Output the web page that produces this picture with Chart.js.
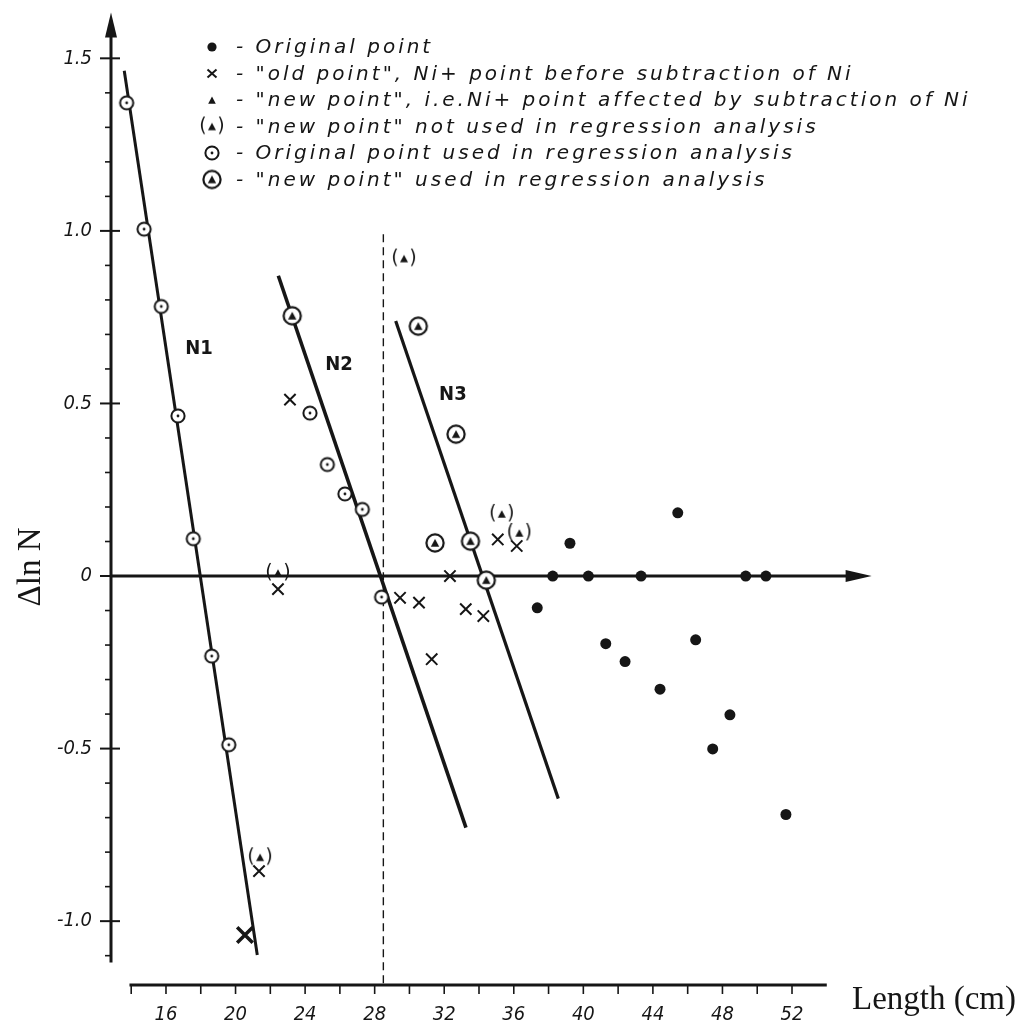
<!DOCTYPE html>
<html>
<head>
<meta charset="utf-8">
<title>Δln N against length</title>
<script src="https://cdn.jsdelivr.net/npm/chart.js@4/dist/chart.umd.min.js"></script>
<style>
  html, body { margin: 0; padding: 0; background: #ffffff; }
  #wrap { position: relative; width: 1024px; height: 1027px; }
</style>
</head>
<body>
<div id="wrap"><canvas id="chart"></canvas></div>
<script>
// ---- axis ticks -------------------------------------------------------
const X_TICKS = [16, 20, 24, 28, 32, 36, 40, 44, 48, 52];
const Y_TICKS = [1.5, 1.0, 0.5, 0, -0.5, -1.0];
const Y_TICK_LABELS = ['1.5', '1.0', '0.5', '0', '-0.5', '-1.0'];

// ---- measured points ---------------------------------------------------
// filled dots: original points
const originalX = [37.35, 38.24, 39.23, 40.29, 41.29, 42.40, 43.32, 44.41, 45.43, 46.46, 47.44, 48.43, 49.34, 50.50, 51.65];
const originalY = [-0.092, 0, 0.095, 0, -0.196, -0.248, 0, -0.328, 0.183, -0.185, -0.501, -0.402, 0, 0, -0.691];

// crosses: "old points" before the Ni subtraction
const oldX = [21.35, 22.44, 23.13, 29.46, 30.55, 31.28, 32.33, 33.24, 34.25, 35.08, 36.17];
const oldY = [-0.855, -0.038, 0.511, -0.063, -0.077, -0.241, 0, -0.096, -0.116, 0.106, 0.087];
const oldBigX = [20.54];
const oldBigY = [-1.04];

// bracketed triangles: new points left out of the regression
const newUnusedX = [21.41, 22.44, 29.69, 35.31, 36.32];
const newUnusedY = [-0.815, 0.009, 0.920, 0.180, 0.125];

// dotted rings: original points used in the regression
const origUsedX = [13.74, 14.74, 15.73, 16.69, 17.57, 18.63, 19.61, 24.28, 25.28, 26.29, 27.29, 28.40];
const origUsedY = [1.371, 1.005, 0.781, 0.464, 0.108, -0.232, -0.489, 0.472, 0.323, 0.238, 0.193, -0.061];

// ringed triangles: new points used in the regression
const newUsedX = [23.26, 30.51, 32.68, 31.47, 33.51, 34.42];
const newUsedY = [0.754, 0.724, 0.411, 0.096, 0.101, -0.012];

// regression lines (end points)
const n1X = [13.60, 21.25], n1Y = [1.464, -1.098];
const n2X = [22.46, 33.25], n2Y = [0.870, -0.729];
const n3X = [29.21, 38.56], n3Y = [0.739, -0.645];

// vertical dashed marker
const dashX = [28.5, 28.5], dashY = [0.99, -1.185];

// line names and where they are written
const lineNames = ['N1', 'N2', 'N3'];
const lineNameX = [17.90, 25.95, 32.50];
const lineNameY = [0.659, 0.613, 0.526];

// ---- scale frame -------------------------------------------------------
const X_MIN = 12.838, X_MAX = 56.60;
const Y_MIN = -1.185, Y_MAX = 1.627;
const Y_AXIS_TOP = 1.633, Y_AXIS_BOTTOM = -1.12;
const ZERO_LINE_END = 56.58;
const BASE_FROM = 13.9, BASE_TO = 54.0;

const INK = '#161616';
const STENCIL = '"DejaVu Sans Condensed", "DejaVu Sans", sans-serif';
const SERIF = '"Liberation Serif", "DejaVu Serif", serif';

// ---- marker glyphs -------------------------------------------------------
function glyph(w, h, paint) {
  const c = document.createElement('canvas');
  c.width = w; c.height = h;
  const g = c.getContext('2d');
  g.fillStyle = INK; g.strokeStyle = INK;
  paint(g, w / 2, h / 2);
  return c;
}
function triangle(g, cx, cy, s) {
  g.beginPath();
  g.moveTo(cx, cy - s);
  g.lineTo(cx - s * 0.95, cy + s * 0.8);
  g.lineTo(cx + s * 0.95, cy + s * 0.8);
  g.closePath();
  g.fillStyle = INK;
  g.fill();
}
function ring(g, cx, cy, r, lw) {
  g.beginPath();
  g.arc(cx, cy, r, 0, Math.PI * 2);
  g.fillStyle = '#ffffff';
  g.fill();
  g.lineWidth = lw;
  g.strokeStyle = INK;
  g.stroke();
}
const ringDot = glyph(18, 18, (g, cx, cy) => {
  ring(g, cx, cy, 6.6, 2);
  g.beginPath(); g.arc(cx, cy, 1.4, 0, Math.PI * 2); g.fillStyle = INK; g.fill();
});
const ringTri = glyph(22, 22, (g, cx, cy) => {
  ring(g, cx, cy, 8.6, 2.2);
  triangle(g, cx, cy + 0.3, 4.4);
});
const plainTri = glyph(12, 12, (g, cx, cy) => triangle(g, cx, cy + 0.5, 4));
const parenTri = glyph(30, 24, (g, cx, cy) => {
  g.font = '19px "DejaVu Sans", sans-serif';
  g.textAlign = 'center';
  g.textBaseline = 'middle';
  g.fillStyle = INK;
  g.fillText('(', cx - 9, cy);
  g.fillText(')', cx + 9, cy);
  triangle(g, cx, cy + 0.5, 4.2);
});

const pts = (xs, ys) => xs.map((x, i) => ({ x, y: ys[i] }));

const datasets = [
  { label: 'Original point', data: pts(originalX, originalY),
    pointStyle: 'circle', pointRadius: 5.5, backgroundColor: INK, borderColor: INK, borderWidth: 0 },
  { label: '"old point", Ni+ point before subtraction of Ni', data: pts(oldX, oldY),
    pointStyle: 'crossRot', pointRadius: 8, borderColor: INK, borderWidth: 2 },
  { label: '"old point", Ni+ point before subtraction of Ni', data: pts(oldBigX, oldBigY),
    pointStyle: 'crossRot', pointRadius: 11, borderColor: INK, borderWidth: 3.5 },
  { label: '"new point", i.e.Ni+ point affected by subtraction of Ni', data: [],
    pointStyle: plainTri, pointRadius: 6 },
  { label: '"new point" not used in regression analysis', data: pts(newUnusedX, newUnusedY),
    pointStyle: parenTri, pointRadius: 6 },
  { label: 'Original point used in regression analysis', data: pts(origUsedX, origUsedY),
    pointStyle: ringDot, pointRadius: 6 },
  { label: '"new point" used in regression analysis', data: pts(newUsedX, newUsedY),
    pointStyle: ringTri, pointRadius: 6 },
  { label: 'N1', data: pts(n1X, n1Y), showLine: true, pointRadius: 0, borderColor: INK, borderWidth: 3, order: 5 },
  { label: 'N2', data: pts(n2X, n2Y), showLine: true, pointRadius: 0, borderColor: INK, borderWidth: 3.6, order: 5 },
  { label: 'N3', data: pts(n3X, n3Y), showLine: true, pointRadius: 0, borderColor: INK, borderWidth: 3.2, order: 5 },
  { label: 'marker', data: pts(dashX, dashY), showLine: true, pointRadius: 0, borderColor: INK,
    borderWidth: 1.4, borderDash: [8, 5], order: 6 }
];

// legend rows: dataset index for each row
const LEGEND_ROWS = [0, 1, 3, 4, 5, 6];

// ---- hand-drawn axes, legend and annotations -------------------------
function seg(ctx, x1, y1, x2, y2) { ctx.beginPath(); ctx.moveTo(x1, y1); ctx.lineTo(x2, y2); ctx.stroke(); }

const figurePlugin = {
  id: 'figure',
  beforeDatasetsDraw(chart) {
    const { ctx, chartArea: a, scales: { x, y } } = chart;
    const ax = a.left;
    const y0 = y.getPixelForValue(0);
    const yTop = y.getPixelForValue(Y_AXIS_TOP);
    const yBot = y.getPixelForValue(Y_AXIS_BOTTOM);
    ctx.save();
    ctx.strokeStyle = INK; ctx.fillStyle = INK; ctx.lineCap = 'butt';

    // vertical axis with arrow
    ctx.lineWidth = 3;
    seg(ctx, ax, yTop + 18, ax, yBot);
    ctx.beginPath();
    ctx.moveTo(ax, yTop); ctx.lineTo(ax - 6, yTop + 25); ctx.lineTo(ax + 6, yTop + 25); ctx.closePath(); ctx.fill();

    // tick marks every 0.1, crossing marks at the labelled values
    for (let i = -11; i <= 15; i++) {
      const py = y.getPixelForValue(i / 10);
      if (i % 5 === 0) {
        ctx.lineWidth = 2;
        seg(ctx, ax - 11, py, i === 0 ? ax : ax + 9, py);
      } else {
        ctx.lineWidth = 1.6;
        seg(ctx, ax - 6, py, ax, py);
      }
    }

    // zero line with arrow
    const xEnd = x.getPixelForValue(ZERO_LINE_END);
    ctx.lineWidth = 3;
    seg(ctx, ax, y0, xEnd - 20, y0);
    ctx.beginPath();
    ctx.moveTo(xEnd, y0); ctx.lineTo(xEnd - 26, y0 - 6); ctx.lineTo(xEnd - 26, y0 + 6); ctx.closePath(); ctx.fill();

    // length axis below the plot
    const by = a.bottom;
    ctx.lineWidth = 3;
    seg(ctx, x.getPixelForValue(BASE_FROM), by, x.getPixelForValue(BASE_TO), by);
    ctx.lineWidth = 1.6;
    for (let v = 14; v <= 52; v += 2) {
      const px = x.getPixelForValue(v);
      seg(ctx, px, by, px, by + 9);
    }
    ctx.restore();
  },
  afterDraw(chart) {
    const { ctx, scales: { x, y } } = chart;
    ctx.save();
    ctx.fillStyle = INK;

    // axis titles
    ctx.font = '33px ' + SERIF;
    ctx.textAlign = 'left';
    ctx.textBaseline = 'alphabetic';
    ctx.fillText('Length (cm)', 852, 1009);
    ctx.save();
    ctx.translate(40, 567);
    ctx.rotate(-Math.PI / 2);
    ctx.textAlign = 'center';
    ctx.fillText('\u0394ln N', 0, 0);
    ctx.restore();

    // line names
    ctx.font = 'bold 20px ' + STENCIL;
    ctx.textAlign = 'center';
    ctx.textBaseline = 'middle';
    lineNames.forEach((t, i) => ctx.fillText(t, x.getPixelForValue(lineNameX[i]), y.getPixelForValue(lineNameY[i])));

    // legend
    const symX = 212, textX = 236, rowY0 = 47, rowStep = 26.5;
    ctx.font = 'italic 20px "DejaVu Sans", sans-serif';
    ctx.letterSpacing = '3px';
    ctx.textAlign = 'left';
    LEGEND_ROWS.forEach((di, r) => {
      const ds = chart.data.datasets[di];
      const cy = rowY0 + r * rowStep;
      const st = ds.pointStyle;
      if (st === 'circle') {
        ctx.beginPath(); ctx.arc(symX, cy, 4.6, 0, Math.PI * 2); ctx.fill();
      } else if (st === 'crossRot') {
        ctx.strokeStyle = INK; ctx.lineWidth = 2;
        seg(ctx, symX - 4.5, cy - 4, symX + 4.5, cy + 4);
        seg(ctx, symX + 4.5, cy - 4, symX - 4.5, cy + 4);
      } else {
        ctx.drawImage(st, symX - st.width / 2, cy - st.height / 2);
      }
      ctx.fillText('- ' + ds.label, textX, cy + 1);
    });
    ctx.restore();
  }
};

const tickFont = { family: STENCIL, size: 20, style: 'italic' };
// keep the frame fixed: no extra room reserved for end labels
const noEndPadding = s => { s.paddingTop = 0; s.paddingBottom = 0; s.paddingLeft = 0; s.paddingRight = 0; };

new Chart(document.getElementById('chart'), {
  type: 'scatter',
  data: { datasets },
  options: {
    responsive: true,
    maintainAspectRatio: false,
    devicePixelRatio: 1,
    animation: false,
    events: [],
    layout: { padding: { top: 12, right: 152, bottom: 0, left: 0 } },
    plugins: { legend: { display: false }, tooltip: { enabled: false } },
    scales: {
      x: {
        type: 'linear', position: 'bottom', min: X_MIN, max: X_MAX,
        grid: { display: false, drawTicks: false }, border: { display: false },
        afterBuildTicks: s => { s.ticks = X_TICKS.map(v => ({ value: v })); },
        afterFit: s => { s.height = 42; noEndPadding(s); },
        ticks: { autoSkip: false, maxRotation: 0, padding: 18, color: INK, font: tickFont,
                 callback: (v, i) => String(X_TICKS[i]) }
      },
      y: {
        type: 'linear', position: 'left', min: Y_MIN, max: Y_MAX,
        grid: { display: false, drawTicks: false }, border: { display: false },
        afterBuildTicks: s => { s.ticks = Y_TICKS.map(v => ({ value: v })); },
        afterFit: s => { s.width = 111; noEndPadding(s); },
        ticks: { autoSkip: false, padding: 19, color: INK, font: tickFont,
                 callback: (v, i) => Y_TICK_LABELS[i] }
      }
    }
  },
  plugins: [figurePlugin]
});
</script>
</body>
</html>
